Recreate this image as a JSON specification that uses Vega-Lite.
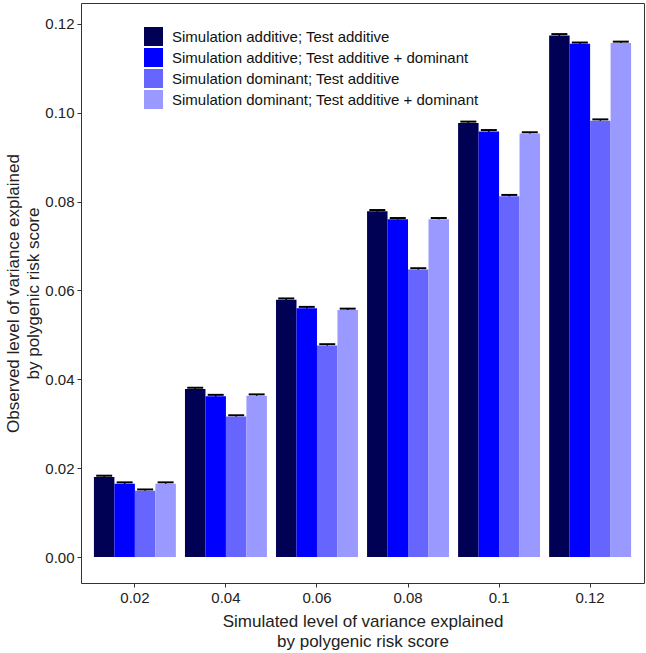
{
  "$schema": "https://vega.github.io/schema/vega-lite/v6.json",
  "width": 563,
  "height": 580,
  "autosize": "none",
  "padding": {"left": 81, "top": 3, "right": 2, "bottom": 70},
  "config": {
    "font": "Liberation Sans",
    "view": {"stroke": "#333333", "strokeWidth": 1},
    "axis": {
      "grid": false,
      "domain": false,
      "tickColor": "#333333",
      "tickSize": 4,
      "labelFontSize": 15,
      "labelColor": "#222222",
      "titleFontSize": 17,
      "titleFontWeight": "normal",
      "titleColor": "#222222",
      "titleLineHeight": 20
    }
  },
  "data": {
    "values": [
      {"sim": "0.02", "grp": "Simulation additive; Test additive", "v": 0.0180, "e": 0.0003},
      {"sim": "0.02", "grp": "Simulation additive; Test additive + dominant", "v": 0.0165, "e": 0.0003},
      {"sim": "0.02", "grp": "Simulation dominant; Test additive", "v": 0.0149, "e": 0.0003},
      {"sim": "0.02", "grp": "Simulation dominant; Test additive + dominant", "v": 0.0165, "e": 0.0003},
      {"sim": "0.04", "grp": "Simulation additive; Test additive", "v": 0.0378, "e": 0.0003},
      {"sim": "0.04", "grp": "Simulation additive; Test additive + dominant", "v": 0.0362, "e": 0.0003},
      {"sim": "0.04", "grp": "Simulation dominant; Test additive", "v": 0.0316, "e": 0.0003},
      {"sim": "0.04", "grp": "Simulation dominant; Test additive + dominant", "v": 0.0363, "e": 0.0003},
      {"sim": "0.06", "grp": "Simulation additive; Test additive", "v": 0.0579, "e": 0.0003},
      {"sim": "0.06", "grp": "Simulation additive; Test additive + dominant", "v": 0.0560, "e": 0.0003},
      {"sim": "0.06", "grp": "Simulation dominant; Test additive", "v": 0.0476, "e": 0.0003},
      {"sim": "0.06", "grp": "Simulation dominant; Test additive + dominant", "v": 0.0556, "e": 0.0003},
      {"sim": "0.08", "grp": "Simulation additive; Test additive", "v": 0.0778, "e": 0.0003},
      {"sim": "0.08", "grp": "Simulation additive; Test additive + dominant", "v": 0.0760, "e": 0.0003},
      {"sim": "0.08", "grp": "Simulation dominant; Test additive", "v": 0.0647, "e": 0.0003},
      {"sim": "0.08", "grp": "Simulation dominant; Test additive + dominant", "v": 0.0760, "e": 0.0003},
      {"sim": "0.1", "grp": "Simulation additive; Test additive", "v": 0.0977, "e": 0.0003},
      {"sim": "0.1", "grp": "Simulation additive; Test additive + dominant", "v": 0.0958, "e": 0.0003},
      {"sim": "0.1", "grp": "Simulation dominant; Test additive", "v": 0.0812, "e": 0.0003},
      {"sim": "0.1", "grp": "Simulation dominant; Test additive + dominant", "v": 0.0953, "e": 0.0003},
      {"sim": "0.12", "grp": "Simulation additive; Test additive", "v": 0.1174, "e": 0.0003},
      {"sim": "0.12", "grp": "Simulation additive; Test additive + dominant", "v": 0.1155, "e": 0.0003},
      {"sim": "0.12", "grp": "Simulation dominant; Test additive", "v": 0.0982, "e": 0.0003},
      {"sim": "0.12", "grp": "Simulation dominant; Test additive + dominant", "v": 0.1157, "e": 0.0003}
    ]
  },
  "transform": [
    {"calculate": "datum.v + datum.e", "as": "hi"},
    {"calculate": "datum.v - datum.e", "as": "lo"}
  ],
  "encoding": {
    "x": {
      "field": "sim",
      "type": "nominal",
      "sort": null,
      "scale": {"paddingInner": 0.1, "paddingOuter": 0.142},
      "axis": {
        "labelAngle": 0,
        "labelPadding": 3,
        "titlePadding": 8,
        "title": ["Simulated level of variance explained", "by polygenic risk score"]
      }
    },
    "xOffset": {
      "field": "grp",
      "type": "nominal",
      "sort": null,
      "scale": {"paddingInner": 0, "paddingOuter": 0}
    }
  },
  "layer": [
    {
      "mark": {"type": "rule", "color": "black", "strokeWidth": 1.5},
      "encoding": {
        "y": {"field": "lo", "type": "quantitative"},
        "y2": {"field": "hi"}
      }
    },
    {
      "mark": {"type": "tick", "color": "black", "size": 16, "thickness": 2, "opacity": 1},
      "encoding": {"y": {"field": "hi", "type": "quantitative"}}
    },
    {
      "mark": {"type": "bar", "opacity": 1},
      "encoding": {
        "y": {
          "field": "v",
          "type": "quantitative",
          "scale": {"domain": [-0.00585, 0.1247], "nice": false, "zero": false},
          "axis": {
            "values": [0, 0.02, 0.04, 0.06, 0.08, 0.1, 0.12],
            "format": ".2f",
            "labelPadding": 3,
            "titlePadding": 2,
            "title": ["Observed level of variance explained", "by polygenic risk score"]
          }
        },
        "y2": {"datum": 0},
        "color": {
          "field": "grp",
          "type": "nominal",
          "sort": null,
          "scale": {
            "domain": [
              "Simulation additive; Test additive",
              "Simulation additive; Test additive + dominant",
              "Simulation dominant; Test additive",
              "Simulation dominant; Test additive + dominant"
            ],
            "range": ["#000055", "#0000ff", "#6666ff", "#9999ff"]
          },
          "legend": {
            "title": null,
            "orient": "none",
            "legendX": 63,
            "legendY": 24,
            "padding": 0,
            "symbolType": "square",
            "symbolSize": 361,
            "symbolStrokeWidth": 0,
            "symbolOpacity": 1,
            "rowPadding": 2,
            "labelFontSize": 15,
            "labelColor": "#111111",
            "labelOffset": 9,
            "labelLimit": 400
          }
        }
      }
    }
  ]
}
